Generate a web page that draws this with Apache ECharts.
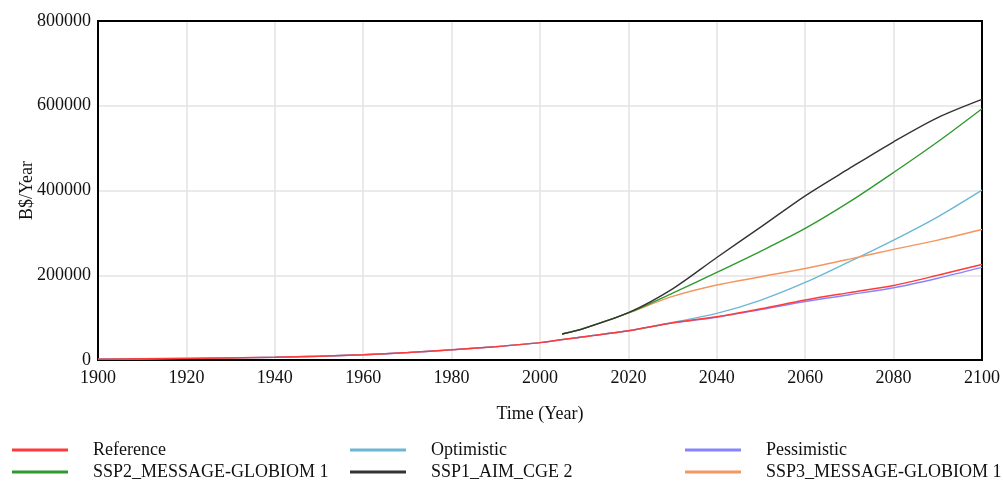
<!DOCTYPE html>
<html>
<head>
<meta charset="utf-8">
<script src="https://cdn.jsdelivr.net/npm/echarts@6/dist/echarts.min.js"></script>
<style>html,body{margin:0;padding:0;background:#fff;}#c{width:1003px;height:481px;}</style>
</head>
<body>
<div id="c"></div>
<script>
// Years and values
const histYears = [1900,1910,1920,1930,1940,1950,1960,1970,1980,1990,2000,2010,2020,2030,2040,2050,2060,2070,2080,2090,2100];
const reference  = [2000,2800,3800,5000,6500,9000,12500,17500,24000,31500,41000,55000,69000,88000,102000,121000,141500,159000,176000,200000,225600];
const optimistic = [2000,2800,3800,5000,6500,9000,12500,17500,24000,31500,41000,55000,69000,88500,110000,141500,183000,232000,283000,338000,401000];
const pessimistic= [2000,2800,3800,5000,6500,9000,12500,17500,24000,31500,41000,55000,69000,87500,101000,119000,138000,154000,170500,193000,218500];
const sspYears = [2005,2010,2020,2030,2040,2050,2060,2070,2080,2090,2100];
const ssp2 = [61300,75000,111000,158000,206700,257000,310500,373000,442500,515000,593000];
const ssp1 = [61300,74700,111600,168000,242000,314000,387500,452000,515000,572000,615000];
const ssp3 = [61300,74700,111000,150000,176900,196500,216000,238000,261000,283000,308000];
const names = ['Reference','Optimistic','Pessimistic','SSP2_MESSAGE-GLOBIOM 1','SSP1_AIM_CGE 2','SSP3_MESSAGE-GLOBIOM 1'];
const colors = ['#ff3a3a','#6cb8d4','#8585ff','#2f9a2f','#333333','#f59560'];

function pairs(xs, ys){ return xs.map((x,i)=>[x, ys[i]]); }

const chart = echarts.init(document.getElementById('c'));
const font = 'Liberation Serif';
const fs = 18;
const dataSets = [
  pairs(histYears, pessimistic),
  pairs(histYears, optimistic),
  pairs(histYears, reference),
  pairs(sspYears, ssp3),
  pairs(sspYears, ssp2),
  pairs(sspYears, ssp1)
];
const order = [2,1,0,5,3,4]; // index into names for each dataset
const widths = [1.4,1.4,1.5,1.4,1.4,1.4];
const series = dataSets.map((d,i)=>({
  name: names[order[i]],
  type: 'line',
  data: d,
  smooth: 0.3,
  showSymbol: false,
  symbol: 'none',
  lineStyle: {color: colors[order[i]], width: widths[i]},
  itemStyle: {color: colors[order[i]]},
  z: 3 + i
}));

// legend positions: column lefts and row tops
const legLeft = [7, 345, 680];
const legTop = [434, 456];
const legends = names.map((n,i)=>({
  left: legLeft[i % 3], top: legTop[Math.floor(i / 3)],
  itemWidth: 56, itemHeight: 3, icon: 'rect', itemGap: 0,
  data: [n], selectedMode: false,
  textStyle: {fontFamily: font, fontSize: fs, color: '#111', padding: [0,0,0,20], lineHeight: 22}
}));

const fmt = v => String(v);

chart.setOption({
  animation: false,
  legend: legends,
  grid: {left: 98, right: 21, top: 21, bottom: 121, show: true, borderColor: '#000', borderWidth: 2},
  xAxis: [{
    type: 'value', min: 1900, max: 2100, interval: 20,
    name: 'Time (Year)', nameLocation: 'middle', nameGap: 45, nameMoveOverlap: false,
    nameTextStyle: {fontFamily: font, fontSize: fs, color: '#111'},
    axisLine: {show: true, lineStyle: {color: '#000', width: 2}},
    axisTick: {show: false},
    axisLabel: {fontFamily: font, fontSize: fs, color: '#111', margin: 9, formatter: fmt},
    splitLine: {show: true, lineStyle: {color: '#e3e3e3', width: 1.5}}
  }, {
    type: 'value', min: 1900, max: 2100, interval: 20, position: 'top',
    axisLine: {show: true, onZero: false, lineStyle: {color: '#000', width: 2}},
    axisTick: {show: false}, axisLabel: {show: false}, splitLine: {show: false}
  }],
  yAxis: [{
    type: 'value', min: 0, max: 800000, interval: 200000,
    name: 'B$/Year', nameLocation: 'middle', nameGap: 62, nameRotate: 90, nameMoveOverlap: false,
    nameTextStyle: {fontFamily: font, fontSize: fs, color: '#111'},
    axisLine: {show: true, lineStyle: {color: '#000', width: 2}},
    axisTick: {show: false},
    axisLabel: {fontFamily: font, fontSize: fs, color: '#111', margin: 7, formatter: fmt},
    splitLine: {show: true, lineStyle: {color: '#e3e3e3', width: 1.5}}
  }, {
    type: 'value', min: 0, max: 800000, interval: 200000, position: 'right',
    axisLine: {show: true, onZero: false, lineStyle: {color: '#000', width: 2}},
    axisTick: {show: false}, axisLabel: {show: false}, splitLine: {show: false}
  }],
  series: series
});
</script>
</body>
</html>
